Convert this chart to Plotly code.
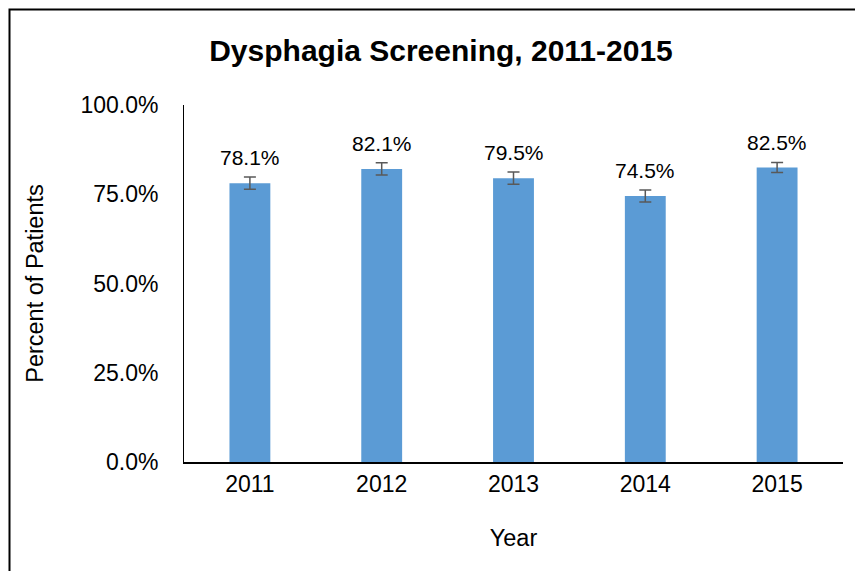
import plotly.graph_objects as go

years = ["2011", "2012", "2013", "2014", "2015"]
values = [0.781, 0.821, 0.795, 0.745, 0.825]
errors = [0.017, 0.017, 0.017, 0.017, 0.014]
labels = ["78.1%", "82.1%", "79.5%", "74.5%", "82.5%"]
y_ticks = [0, 0.25, 0.5, 0.75, 1.0]

FONT = "Liberation Sans, Arial, sans-serif"
OFF = 8  # page body margin

fig = go.Figure()
fig.add_trace(go.Bar(
    x=years, y=values,
    marker=dict(color="#5B9BD5", line=dict(width=0)),
    width=0.31,
    error_y=dict(type="data", array=errors, visible=True, color="#595959",
                 thickness=1.5, width=6),
    hoverinfo="skip",
))

# data labels (category index positions on the category axis)
for i, (v, e, lab) in enumerate(zip(values, errors, labels)):
    fig.add_annotation(x=i, y=v + e, text=lab, showarrow=False,
                       xanchor="center", yanchor="bottom", yshift=6,
                       font=dict(family=FONT, size=21, color="#000000"))

W, H = 863 - 2 * OFF, 579 - 2 * OFF
L, T = 184 - OFF, 105 - OFF
R = W - (843 - OFF)
B = H - (462 - OFF)
pw, ph = W - L - R, H - T - B

# outer chart border (top and left visible)
fig.add_shape(type="rect", xref="paper", yref="paper",
              x0=(9.5 - OFF - L) / pw, y0=-1.0, x1=2.0,
              y1=(H - B - (9.5 - OFF)) / ph,
              line=dict(color="#000000", width=2), fillcolor="rgba(0,0,0,0)")

fig.update_layout(
    width=W, height=H,
    margin=dict(l=L, r=R, t=T, b=B),
    paper_bgcolor="white", plot_bgcolor="white",
    showlegend=False,
    font=dict(family=FONT, color="#000000"),
    title=dict(text="<b>Dysphagia Screening, 2011-2015</b>",
               x=(441 - OFF) / W, xanchor="center", y=1 - (50 - OFF) / H,
               yanchor="middle",
               font=dict(family=FONT, size=30, color="#000000")),
    xaxis=dict(
        type="category", automargin=False, range=[-0.5, 4.5],
        showline=True, linecolor="#000000", linewidth=2,
        ticks="", tickfont=dict(size=23),
        title=dict(text="Year", font=dict(size=23.5), standoff=34),
        showgrid=False,
    ),
    yaxis=dict(
        range=[0, 1.0], tickvals=y_ticks, tickformat=".1%", automargin=False,
        showline=True, linecolor="#000000", linewidth=1,
        ticks="outside", ticklen=20, tickcolor="rgba(0,0,0,0)",
        tickfont=dict(size=23),
        showgrid=False, zeroline=False,
        title=dict(text="Percent of Patients", font=dict(size=23.5), standoff=30),
    ),
)

fig.write_html("out.html")
